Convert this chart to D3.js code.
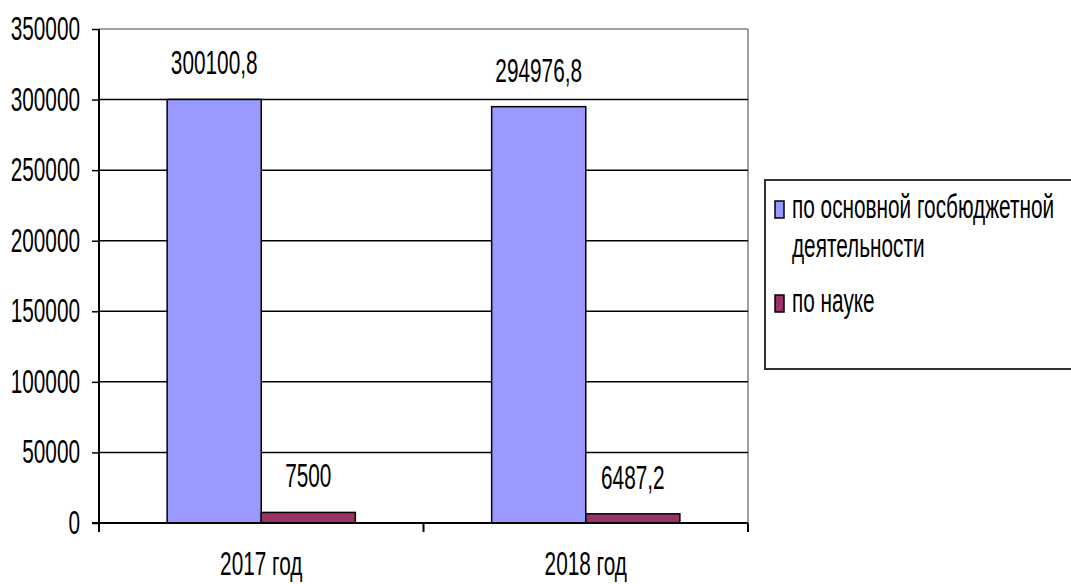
<!DOCTYPE html>
<html>
<head>
<meta charset="utf-8">
<script src="https://cdn.jsdelivr.net/npm/d3@7"></script>
<style>
  body { margin: 0; background: #fff; }
  svg text { font-family: "Liberation Sans", Arial, sans-serif; fill: #000; }
</style>
</head>
<body>
<svg width="1071" height="584"></svg>
<script>
const categories = ["2017 год", "2018 год"];
const seriesNames = ["по основной госбюджетной деятельности", "по науке"];
const budgetValues = [300100.8, 294976.8];
const scienceValues = [7500, 6487.2];
const yTicks = [0, 50000, 100000, 150000, 200000, 250000, 300000, 350000];
const colors = ["#9999ff", "#993366"];

const svg = d3.select("svg");
const margin = { top: 29, right: 323, bottom: 61, left: 99 };
const width = +svg.attr("width") - margin.left - margin.right;
const height = +svg.attr("height") - margin.top - margin.bottom;
const g = svg.append("g").attr("transform", `translate(${margin.left},${margin.top})`);

const fontSize = 33;
const squeeze = 0.63;
const ru = d3.formatLocale({ decimal: ",", thousands: "", grouping: [3], currency: ["", ""] });
const fmt = ru.format("~f");

// narrow text, like the squeezed Arial of the original
function label(parent, x, y, txt, anchor) {
    return parent.append("text")
        .attr("transform", `translate(${x},${y}) scale(${squeeze},1)`)
        .attr("text-anchor", anchor)
        .attr("font-size", fontSize + "px")
        .text(txt);
}

const data = categories.map((c, i) => ({ cat: c, values: [budgetValues[i], scienceValues[i]] }));

const x0 = d3.scaleBand().domain(categories).range([0, width]).paddingInner(0.42).paddingOuter(0.21);
const x1 = d3.scaleBand().domain([0, 1]).range([0, x0.bandwidth()]);
const y = d3.scaleLinear().domain([0, 350000]).range([height, 0]);

// plot area border (grey top and right)
g.append("line").attr("x1", 0).attr("x2", width).attr("y1", 0).attr("y2", 0)
    .attr("stroke", "#808080").attr("stroke-width", 1.5);
g.append("line").attr("x1", width).attr("x2", width).attr("y1", 0).attr("y2", height)
    .attr("stroke", "#808080").attr("stroke-width", 1.5);

// gridlines
g.selectAll(".grid")
    .data(yTicks.filter(t => t > 0 && t < 350000))
    .enter().append("line")
    .attr("class", "grid")
    .attr("x1", 0).attr("x2", width)
    .attr("y1", d => y(d)).attr("y2", d => y(d))
    .attr("stroke", "#000").attr("stroke-width", 1.5);

// bars
const groups = g.selectAll(".cat")
    .data(data)
    .enter().append("g")
    .attr("class", "cat")
    .attr("transform", d => `translate(${x0(d.cat)},0)`);

groups.selectAll("rect")
    .data(d => d.values.map((v, i) => ({ v, i })))
    .enter().append("rect")
    .attr("x", d => x1(d.i))
    .attr("y", d => y(d.v))
    .attr("width", x1.bandwidth())
    .attr("height", d => height - y(d.v))
    .attr("fill", d => colors[d.i])
    .attr("stroke", "#000")
    .attr("stroke-width", 1.5);

groups.each(function(d) {
    const gg = d3.select(this);
    d.values.forEach((v, i) => {
        label(gg, x1(i) + x1.bandwidth() / 2, y(v) - 25, fmt(v), "middle");
    });
});

// y axis
const yAxis = g.append("g")
    .call(d3.axisLeft(y).tickValues(yTicks).tickSize(7).tickFormat(""));
yAxis.select(".domain").remove();
yAxis.selectAll(".tick line").attr("stroke", "#000").attr("stroke-width", 1.5);
g.append("line").attr("x1", 0).attr("x2", 0).attr("y1", 0).attr("y2", height + 9)
    .attr("stroke", "#000").attr("stroke-width", 2);
yTicks.forEach(t => label(g, -19, y(t) + 11, t, "end"));

// x axis
g.append("line").attr("x1", -7).attr("x2", width).attr("y1", height).attr("y2", height)
    .attr("stroke", "#000").attr("stroke-width", 2);
const step = x0.step();
[1, 2].forEach(i => {
    g.append("line").attr("x1", i * step).attr("x2", i * step)
        .attr("y1", height).attr("y2", height + 9)
        .attr("stroke", "#000").attr("stroke-width", 2);
});
categories.forEach(c => label(g, x0(c) + x0.bandwidth() / 2, height + 52, c, "middle"));

// legend
const legend = svg.append("g").attr("transform", "translate(765,180)");
legend.append("rect")
    .attr("x", 0).attr("y", 0).attr("width", 330).attr("height", 189)
    .attr("fill", "#fff").attr("stroke", "#333").attr("stroke-width", 2);
const legendRows = [
    { lines: ["по основной госбюджетной", "деятельности"], y: 38 },
    { lines: ["по науке"], y: 132 }
];
legendRows.forEach((row, i) => {
    legend.append("rect")
        .attr("x", 10).attr("y", row.y - 17).attr("width", 9).attr("height", 17)
        .attr("fill", colors[i]).attr("stroke", "#000").attr("stroke-width", 1.5);
    row.lines.forEach((t, k) => label(legend, 27, row.y + k * 39, t, "start"));
});
</script>
</body>
</html>
